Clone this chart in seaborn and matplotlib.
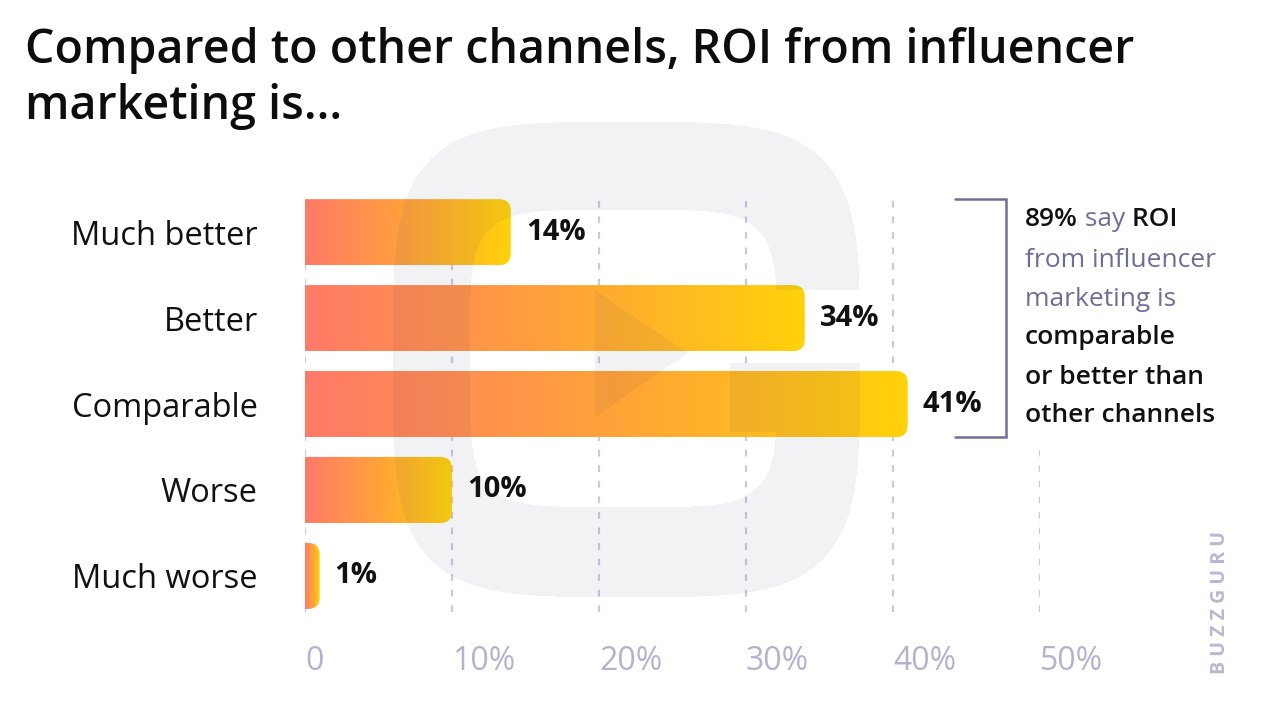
import numpy as np
import matplotlib
matplotlib.use('Agg')
import matplotlib.pyplot as plt
import seaborn as sns
from matplotlib.colors import LinearSegmentedColormap
from matplotlib.patches import FancyBboxPatch

sns.set_style('white')
plt.rcParams['font.family'] = ['Open Sans', 'DejaVu Sans']

# data
categories = ['Much better', 'Better', 'Comparable', 'Worse', 'Much worse']
shares = [14, 34, 41, 10, 1]
xticks = [0, 10, 20, 30, 40, 50]
xtick_labels = ['0', '10%', '20%', '30%', '40%', '50%']

W, H = 1280, 720
GRAY = '#6E6E96'
LAV = '#B3B3D0'

fig = plt.figure(figsize=(12.8, 7.2), dpi=100)
ax = fig.add_axes([305 / W, 1 - 612 / H, 735 / W, 415 / H])

bar_h = 0.77
sns.barplot(x=shares, y=categories, orient='h', width=bar_h, color='#FFA33A', ax=ax)

x_lim = (0, 50)
y_lim = (4.42, -0.41)

# pixel scale of the axes, used to keep the rounded ends round
px_x = 735 / (x_lim[1] - x_lim[0])
px_y = 415 / (y_lim[0] - y_lim[1])
r = 12 / px_x
asp = px_x / px_y

#gradient bars with rounded right end
grad = np.linspace(0, 1, 256).reshape(1, -1)
cmap = LinearSegmentedColormap.from_list('roi', ['#FF7A68', '#FFA23A', '#FFD20A'])
for p in list(ax.patches):
    x0, y0, w, h = p.get_x(), p.get_y(), p.get_width(), p.get_height()
    p.set_visible(False)
    im = ax.imshow(grad, cmap=cmap, extent=[x0, x0 + w, y0 + h, y0],
                   aspect='auto', zorder=2, interpolation='bicubic')
    clip = FancyBboxPatch((x0 - 3 * r, y0), w + 3 * r, h,
                          boxstyle=f'round,pad=0,rounding_size={r}',
                          mutation_aspect=asp, transform=ax.transData)
    im.set_clip_path(clip)

for i, v in enumerate(shares):
    ax.text(v + 15 / px_x, i, f'{v}%', va='center', ha='left',
            fontsize=21, fontweight='bold', color='#111111', zorder=3)

ax.set_xlim(x_lim)
ax.set_ylim(y_lim)
ax.set_xlabel('')
ax.set_ylabel('')
for s in ax.spines.values():
    s.set_visible(False)

ax.set_xticks(xticks, xtick_labels)
for lbl in ax.get_xticklabels():
    lbl.set_ha('left')
ax.tick_params(axis='x', length=0, pad=24, labelsize=23, labelcolor=LAV)
ax.tick_params(axis='y', length=0, pad=34, labelsize=23.5, labelcolor='#111111')

ax.grid(axis='x', color='#C9C9E2', linestyle=(0, (3, 4)), linewidth=1.6)
ax.grid(axis='y', visible=False)
ax.set_axisbelow(True)
ax.get_xgridlines()[-1].set_ydata([0, 0.40])

# bracket around the top three answers
y_top = 0 - bar_h / 2
y_bot = 2 + bar_h / 2
xa = (955 - 305) / px_x
xb = (1006 - 305) / px_x
ax.plot([xa, xb, xb, xa], [y_top, y_top, y_bot, y_bot], color=GRAY, lw=1.8,
        clip_on=False, solid_joinstyle='miter', zorder=3)

# side note
note = [
    [('89%', '#111111', 'semibold'), (' say', GRAY, 'normal'), (' ROI', '#111111', 'semibold')],
    [('from influencer', GRAY, 'normal')],
    [('marketing is', GRAY, 'normal')],
    [('comparable', '#111111', 'semibold')],
    [('or better than', '#111111', 'semibold')],
    [('other channels', '#111111', 'semibold')],
]
note_y = [220, 260, 299, 338, 378, 416]
for yy, parts in zip(note_y, note):
    prev = None
    for s, c, wt in parts:
        if prev is None:
            prev = fig.text(1025 / W, 1 - yy / H, s, color=c, fontweight=wt,
                            fontsize=19, va='center', ha='left')
        else:
            prev = ax.annotate(s, xy=(1, 0), xycoords=prev, color=c, fontweight=wt,
                               fontsize=19, va='bottom', ha='left', annotation_clip=False)

# title
fig.text(25 / W, 1 - 50 / H, 'Compared to other channels, ROI from influencer',
         fontsize=33.5, fontweight='semibold', va='center', ha='left', color='#0d0d0d')
fig.text(25 / W, 1 - 106 / H, 'marketing is...',
         fontsize=33.5, fontweight='semibold', va='center', ha='left', color='#0d0d0d')

fig.text(1220 / W, 1 - 602 / H, 'B U Z Z G U R U', rotation=90, ha='center', va='center',
         fontsize=14, fontweight='bold', color='#B8B8D4')

# faint logo watermark over the bars
yy, xx = np.mgrid[0:H, 0:W] + 0.5
outer = (np.abs((xx - 626.5) / 233.5) ** 4 + np.abs((yy - 359.5) / 237.5) ** 4) <= 1
inner = (np.abs((xx - 623.5) / 153.5) ** 5 + np.abs((yy - 358.5) / 148.5) ** 5) <= 1
ring = outer & ~inner & ~((xx > 700) & (yy >= 290) & (yy < 363))
gbar = outer & (xx >= 730) & (yy >= 363) & (yy < 432)
tri = (xx >= 595) & (yy >= 290 + (xx - 595) * 63 / 93) & (yy <= 417 - (xx - 595) * 64 / 93)
mask = ring | gbar | tri
rgba = np.zeros((H, W, 4))
rgba[..., 0] = 50 / 255
rgba[..., 1] = 50 / 255
rgba[..., 2] = 100 / 255
rgba[..., 3] = mask * 0.065

wax = fig.add_axes([0, 0, 1, 1], zorder=5)
wax.imshow(rgba, extent=[0, W, H, 0], aspect='auto', interpolation='bilinear')
wax.set_xlim(0, W)
wax.set_ylim(H, 0)
wax.axis('off')

fig.savefig('out.png', dpi=100)
